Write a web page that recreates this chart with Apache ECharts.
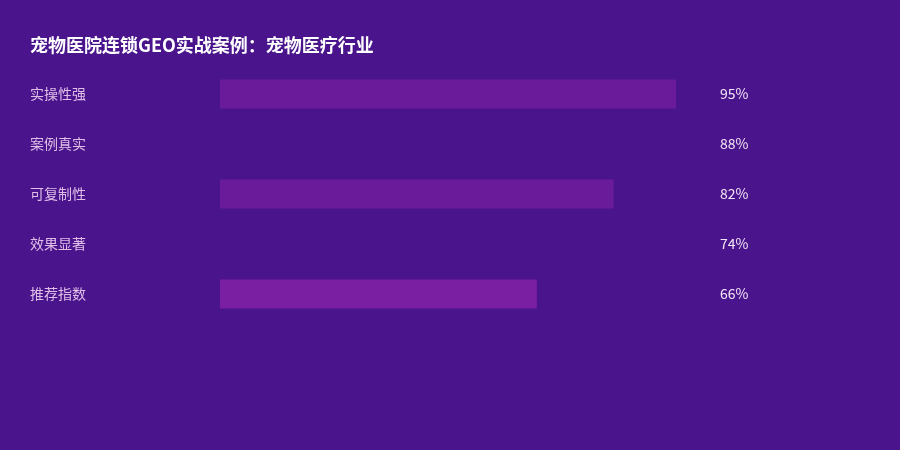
<!DOCTYPE html>
<html>
<head>
<meta charset="utf-8">
<script src="https://cdn.jsdelivr.net/npm/echarts@6/dist/echarts.min.js"></script>
<style>
html,body{margin:0;padding:0;background:#4a148c;}
#main{width:900px;height:450px;}
</style>
</head>
<body>
<div id="main"></div>
<script>
const titleText = '宠物医院连锁GEO实战案例：宠物医疗行业';
const categories = ['实操性强', '案例真实', '可复制性', '效果显著', '推荐指数'];
const values = [95, 88, 82, 74, 66];
const valueLabels = ['95%', '88%', '82%', '74%', '66%'];
const barColors = ['#6a1b9a', '#4a148c', '#6a1b9a', '#4a148c', '#7b1fa2'];

const chart = echarts.init(document.getElementById('main'));
chart.setOption({
  backgroundColor: '#4a148c',
  animation: false,
  textStyle: { fontFamily: '"Noto Sans CJK SC", "Noto Sans", sans-serif' },
  title: {
    text: titleText,
    left: 30,
    top: 36,
    padding: 0,
    textStyle: { color: '#ffffff', fontSize: 18, fontWeight: 'bold', fontFamily: '"Noto Sans CJK SC", sans-serif' }
  },
  grid: { left: 220, right: 200, top: 69, height: 250, containLabel: false },
  xAxis: {
    type: 'value', min: 0, max: 100,
    show: false
  },
  yAxis: [{
    type: 'category',
    data: categories,
    inverse: true,
    axisLine: { show: false },
    axisTick: { show: false },
    splitLine: { show: false },
    axisLabel: { color: '#e1bee7', fontSize: 14, align: 'left', margin: 190 }
  }, {
    type: 'category',
    data: valueLabels,
    inverse: true,
    position: 'right',
    axisLine: { show: false },
    axisTick: { show: false },
    splitLine: { show: false },
    axisLabel: { color: '#f3e5f5', fontSize: 14, align: 'left', margin: 20 }
  }],
  series: [{
    type: 'bar',
    yAxisIndex: 0,
    barWidth: 29,
    data: values.map((v, i) => ({ value: v, itemStyle: { color: barColors[i] } })),
    label: { show: false }
  }]
});
</script>
</body>
</html>
